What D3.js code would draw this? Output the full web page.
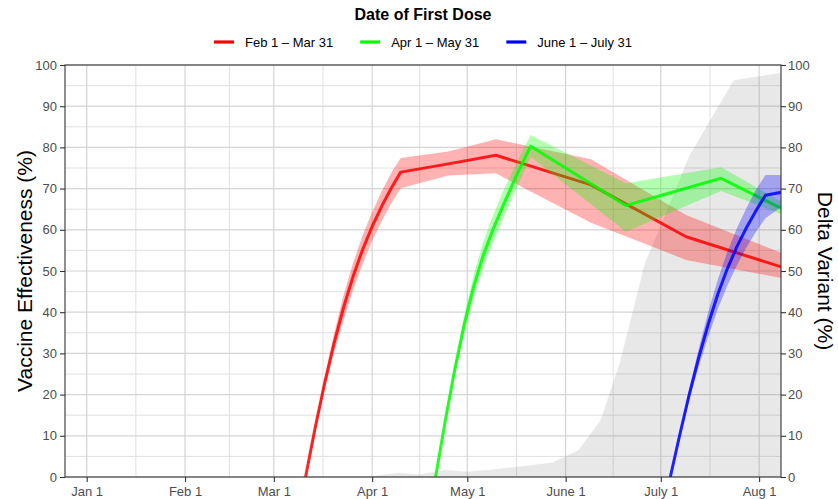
<!DOCTYPE html>
<html>
<head>
<meta charset="utf-8">
<script src="https://cdn.jsdelivr.net/npm/d3@7"></script>
<style>
  body { margin: 0; background: #fff; }
  svg { display: block; font-family: "Liberation Sans", Arial, sans-serif; }
</style>
</head>
<body>
<script>
const width  = 838
const height = 499
const margin = {top: 65, right: 57, bottom: 22, left: 65}

// all days are counted from Jan 1, 2021
const monthDays   = [0, 31, 59, 90, 120, 151, 181, 212]
const monthLabels = ["Jan 1", "Feb 1", "Mar 1", "Apr 1", "May 1", "June 1", "July 1", "Aug 1"]
const yTicks      = [0, 10, 20, 30, 40, 50, 60, 70, 80, 90, 100]

// Feb 1 - Mar 31 cohort
const redDays = [69, 72, 75, 78, 81, 84, 87, 90, 93, 96, 99, 114, 129, 159, 189, 219]
const redVE   = [0, 11.8, 22.7, 32.5, 41.2, 48.7, 55.2, 60.8, 65.7, 70.1, 74, 76, 78.1, 70.9, 58.3, 51]
const redLo   = [0, 11.0, 21.2, 30.2, 38.2, 45.4, 51.7, 57.3, 62.1, 66.4, 70.1, 73.2, 73.7, 61.7, 52.7, 48.3]
const redHi   = [0, 12.6, 24.2, 34.8, 44.2, 52.0, 58.7, 64.3, 69.3, 73.8, 77.4, 79, 82, 77.1, 63.6, 54.4]

// Apr 1 - May 31 cohort
const greenDays = [110, 113, 116, 119, 122, 125, 128, 131, 134, 137, 140, 170, 200, 219]
const greenVE   = [0, 13.4, 25.9, 36.9, 46.2, 53.8, 59.9, 65.4, 70.6, 75.6, 80.3, 65.9, 72.5, 65.2]
const greenLo   = [0, 12.7, 24.4, 34.7, 43.4, 50.6, 56.5, 62.0, 67.4, 72.6, 77.7, 59.5, 69.4, 63.8]
const greenHi   = [0, 14.1, 27.4, 39.1, 49.0, 57.0, 63.3, 68.8, 73.8, 78.6, 83, 71.3, 75.2, 66.8]

// June 1 - July 31 cohort
const blueDays = [184, 187, 190, 193, 196, 199, 202, 205, 208, 211, 214, 219]
const blueVE   = [0, 10.3, 20.1, 29.1, 37.2, 44.4, 50.6, 55.9, 60.5, 64.6, 68.4, 69.1]
const blueLo   = [0, 9.8, 18.8, 26.9, 34.2, 40.8, 46.5, 51.4, 55.7, 59.5, 62.8, 65.6]
const blueHi   = [0, 10.8, 21.4, 31.3, 40.2, 48.0, 54.7, 60.4, 65.3, 69.7, 73.3, 73.3]

// share of Delta variant (%)
const deltaDays = [88, 98, 105, 113, 120, 128, 136, 147, 155, 162, 168, 176, 181, 190, 204, 219]
const deltaPct  = [0, 1.0, 0.6, 1.7, 1.3, 1.8, 2.5, 3.5, 6.5, 13.8, 27.5, 51.9, 61, 78, 96.3, 98.1]

const series = [
  {label: "Feb 1 \u2013 Mar 31",   color: "#ff0000", days: redDays,   ve: redVE,   lo: redLo,   hi: redHi},
  {label: "Apr 1 \u2013 May 31",   color: "#00ff00", days: greenDays, ve: greenVE, lo: greenLo, hi: greenHi},
  {label: "June 1 \u2013 July 31", color: "#0000ff", days: blueDays,  ve: blueVE,  lo: blueLo,  hi: blueHi},
]

const x = d3.scaleLinear()
  .domain([-6.84, 218.9])
  .range([margin.left, width - margin.right])
const y = d3.scaleLinear()
  .domain([0, 100])
  .range([height - margin.bottom, margin.top])

const x0 = x.range()[0], x1 = x.range()[1]
const y0 = y.range()[0], y1 = y.range()[1]

const svg = d3.select("body").append("svg")
  .attr("width", width)
  .attr("height", height)

svg.append("defs").append("clipPath")
  .attr("id", "panel")
.append("rect")
  .attr("x", x0).attr("y", y1)
  .attr("width", x1 - x0).attr("height", y0 - y1)

//grid
const minorX = d3.pairs(monthDays).map(([a, b]) => (a + b) / 2)
const minorY = d3.pairs(yTicks).map(([a, b]) => (a + b) / 2)
const grid = svg.append("g")
grid.selectAll(".vminor").data(minorX).join("line")
  .attr("x1", d => x(d)).attr("x2", d => x(d))
  .attr("y1", y1).attr("y2", y0)
  .attr("stroke", "#e0e0e0").attr("stroke-width", 1)
grid.selectAll(".hminor").data(minorY).join("line")
  .attr("y1", d => y(d)).attr("y2", d => y(d))
  .attr("x1", x0).attr("x2", x1)
  .attr("stroke", "#e0e0e0").attr("stroke-width", 1)
grid.selectAll(".vmajor").data(monthDays).join("line")
  .attr("x1", d => x(d)).attr("x2", d => x(d))
  .attr("y1", y1).attr("y2", y0)
  .attr("stroke", "#d4d4d4").attr("stroke-width", 1.2)
grid.selectAll(".hmajor").data(yTicks).join("line")
  .attr("y1", d => y(d)).attr("y2", d => y(d))
  .attr("x1", x0).attr("x2", x1)
  .attr("stroke", "#d4d4d4").attr("stroke-width", 1.2)

const plot = svg.append("g").attr("clip-path", "url(#panel)")

//delta share
const area = d3.area()
  .x(d => x(d[0]))
  .y0(y(0))
  .y1(d => y(d[1]))
plot.append("path")
  .attr("d", area(d3.zip(deltaDays, deltaPct)))
  .attr("fill", "#808080")
  .attr("fill-opacity", 0.18)

//ribbons and lines
const band = d3.area()
  .x(d => x(d.day))
  .y0(d => y(d.lo))
  .y1(d => y(d.hi))
const line = d3.line()
  .x(d => x(d.day))
  .y(d => y(d.ve))

series.forEach(s => {
  const rows = s.days.map((day, i) => ({day, ve: s.ve[i], lo: s.lo[i], hi: s.hi[i]}))
  plot.append("path")
    .attr("d", band(rows))
    .attr("fill", s.color)
    .attr("fill-opacity", 0.3)
  plot.append("path")
    .attr("d", line(rows))
    .attr("fill", "none")
    .attr("stroke", s.color)
    .attr("stroke-opacity", 0.85)
    .attr("stroke-width", 3)
    .attr("stroke-linejoin", "round")
})

//border
svg.append("rect")
  .attr("x", x0).attr("y", y1)
  .attr("width", x1 - x0).attr("height", y0 - y1)
  .attr("fill", "none")
  .attr("stroke", "#333")
  .attr("stroke-width", 1.1)

//axes
function styleAxis(g) {
  g.select(".domain").remove()
  g.selectAll(".tick line").attr("stroke", "#333").attr("stroke-width", 1.1)
  g.selectAll(".tick text")
    .attr("fill", "#4d4d4d")
    .style("font-size", "13px")
    .style("font-family", "Liberation Sans, Arial, sans-serif")
}

svg.append("g")
  .attr("transform", `translate(0,${y0})`)
  .call(d3.axisBottom(x).tickValues(monthDays).tickFormat((d, i) => monthLabels[i]).tickSize(5).tickPadding(5))
  .call(styleAxis)

svg.append("g")
  .attr("transform", `translate(${x0},0)`)
  .call(d3.axisLeft(y).tickValues(yTicks).tickSize(5).tickPadding(3))
  .call(styleAxis)

svg.append("g")
  .attr("transform", `translate(${x1},0)`)
  .call(d3.axisRight(y).tickValues(yTicks).tickSize(5).tickPadding(2))
  .call(styleAxis)

//titles
svg.append("text")
  .attr("x", (x0 + x1) / 2)
  .attr("y", 20)
  .attr("text-anchor", "middle")
  .attr("font-weight", "bold")
  .attr("font-size", 16)
  .text("Date of First Dose")

svg.append("text")
  .attr("transform", `translate(32,${(y0 + y1) / 2}) rotate(-90)`)
  .attr("text-anchor", "middle")
  .attr("font-size", 21)
  .text("Vaccine Effectiveness (%)")

svg.append("text")
  .attr("transform", `translate(818,${(y0 + y1) / 2}) rotate(90)`)
  .attr("text-anchor", "middle")
  .attr("font-size", 21)
  .text("Delta Variant (%)")

//legend
const legend = svg.append("g")
let lx = 0
series.forEach(s => {
  const g = legend.append("g").attr("transform", `translate(${lx},0)`)
  g.append("line")
    .attr("x1", 0).attr("x2", 20)
    .attr("stroke", s.color)
    .attr("stroke-width", 3.2)
  const t = g.append("text")
    .attr("x", 31)
    .attr("y", 4.6)
    .attr("font-size", 13)
    .text(s.label)
  lx += 31 + t.node().getComputedTextLength() + 27
})
lx -= 27
legend.attr("transform", `translate(${(x0 + x1) / 2 - lx / 2},42)`)
</script>
</body>
</html>
